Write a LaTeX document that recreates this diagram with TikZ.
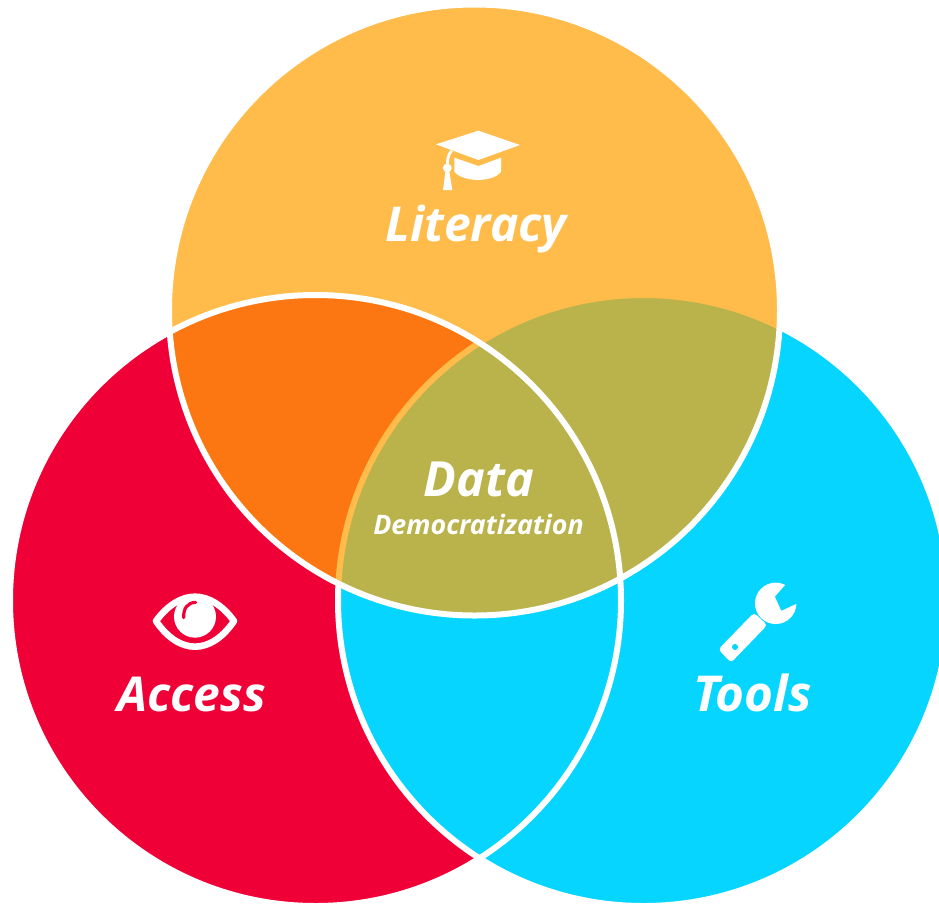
\documentclass[tikz,border=0pt]{standalone}
\usepackage{fontspec}
\setmainfont{Open Sans}
\definecolor{cyel}{HTML}{FFBC4B}
\definecolor{cred}{HTML}{EF0037}
\definecolor{ccya}{HTML}{05D5FF}
\definecolor{cora}{HTML}{FC7711}
\definecolor{coli}{HTML}{BAB24B}
\tikzset{
  ring/.style={draw=white,line width=6pt},
  lab/.style={text=white,anchor=base,inner sep=0pt,font=\bfseries\itshape},
  zoomed/.style={x=0.33333pt,y=-0.33333pt},
}
\def\redc{(315.5pt,-600.5pt) circle [radius=305.5pt]}
\def\cyac{(643.5pt,-600.5pt) circle [radius=305.5pt]}
\def\yelc{(474.5pt,-310pt) circle [radius=305.5pt]}
\begin{document}
\begin{tikzpicture}[x=1pt,y=-1pt]
\useasboundingbox (0,0) rectangle (939,903);
\clip (0,0) rectangle (939,903);
\fill[white] (0,0) rectangle (939,903);
% base circles
\fill[cred] \redc;
\fill[ccya] \cyac;
\draw[ring] \redc;
\draw[ring] \cyac;
% top circle and its overlaps
\fill[cyel] \yelc;
\begin{scope}
  \clip \yelc;
  \fill[cora] \redc;
  \filldraw[fill=coli,draw=cyel,line width=6pt] \cyac;
  \draw[ring] \redc;
\end{scope}
\draw[ring] \yelc;
% labels
\node[lab,font=\bfseries\itshape\fontsize{48}{48}\selectfont] (lit) at (476,241.5) {Literacy};
\node[lab,font=\bfseries\itshape\fontsize{48}{48}\selectfont] (acc) at (191.5,711) {Access};
\node[lab,font=\bfseries\itshape\fontsize{49.5}{48}\selectfont] (too) at (752.5,711) {Tools};
\node[lab,font=\bfseries\itshape\fontsize{48.5}{48}\selectfont] (dat) at (479,496) {Data};
\node[lab,font=\bfseries\itshape\fontsize{26.8}{27}\selectfont] (dem) at (478.5,534) {Democratization};
% graduation cap
\begin{scope}[shift={(360,110)},zoomed]
  \fill[white] (355,62) -- (480,105) -- (355,150) -- (228,103) -- cycle;
  \fill[white] (283,143) -- (355,168) -- (423,143) -- (423,185)
     .. controls (400,218) and (310,218) .. (283,185) -- cycle;
  \draw[white,line width=2.8pt] (275,122) .. controls (263,135) and (262,150) .. (262,172);
  \fill[white] (262,174) circle [radius=4.4pt];
  \fill[white] (257,180) -- (267,180) -- (277,240) -- (249,240) -- cycle;
\end{scope}
% eye
\begin{scope}[shift={(100,570)},zoomed]
  \draw[white,line width=6.6pt,line join=round]
    (168,153) .. controls (203,105) and (245,80) .. (285,80)
    .. controls (325,80) and (367,105) .. (402,153)
    .. controls (367,205) and (325,230) .. (285,230)
    .. controls (245,230) and (203,205) .. (168,153) -- cycle;
  \fill[white] (285,140) circle [radius=21pt];
  \draw[cred,line width=3.2pt,line cap=round] (287,97) .. controls (262,98) and (250,115) .. (251,143);
\end{scope}
% wrench
\begin{scope}[shift={(680,570)},zoomed]
  \fill[white] (287,100) circle [radius=20.7pt];
  \fill[white,rounded corners=3.5pt] (222,128) -- (115,238) -- (153,278) -- (262,165) -- cycle;
  \fill[ccya] (322,38) -- (285,80) -- (304,122) -- (352,100) -- (370,30) -- cycle;
  \fill[ccya] (165,231) circle [radius=3pt];
\end{scope}
\end{tikzpicture}
\end{document}
